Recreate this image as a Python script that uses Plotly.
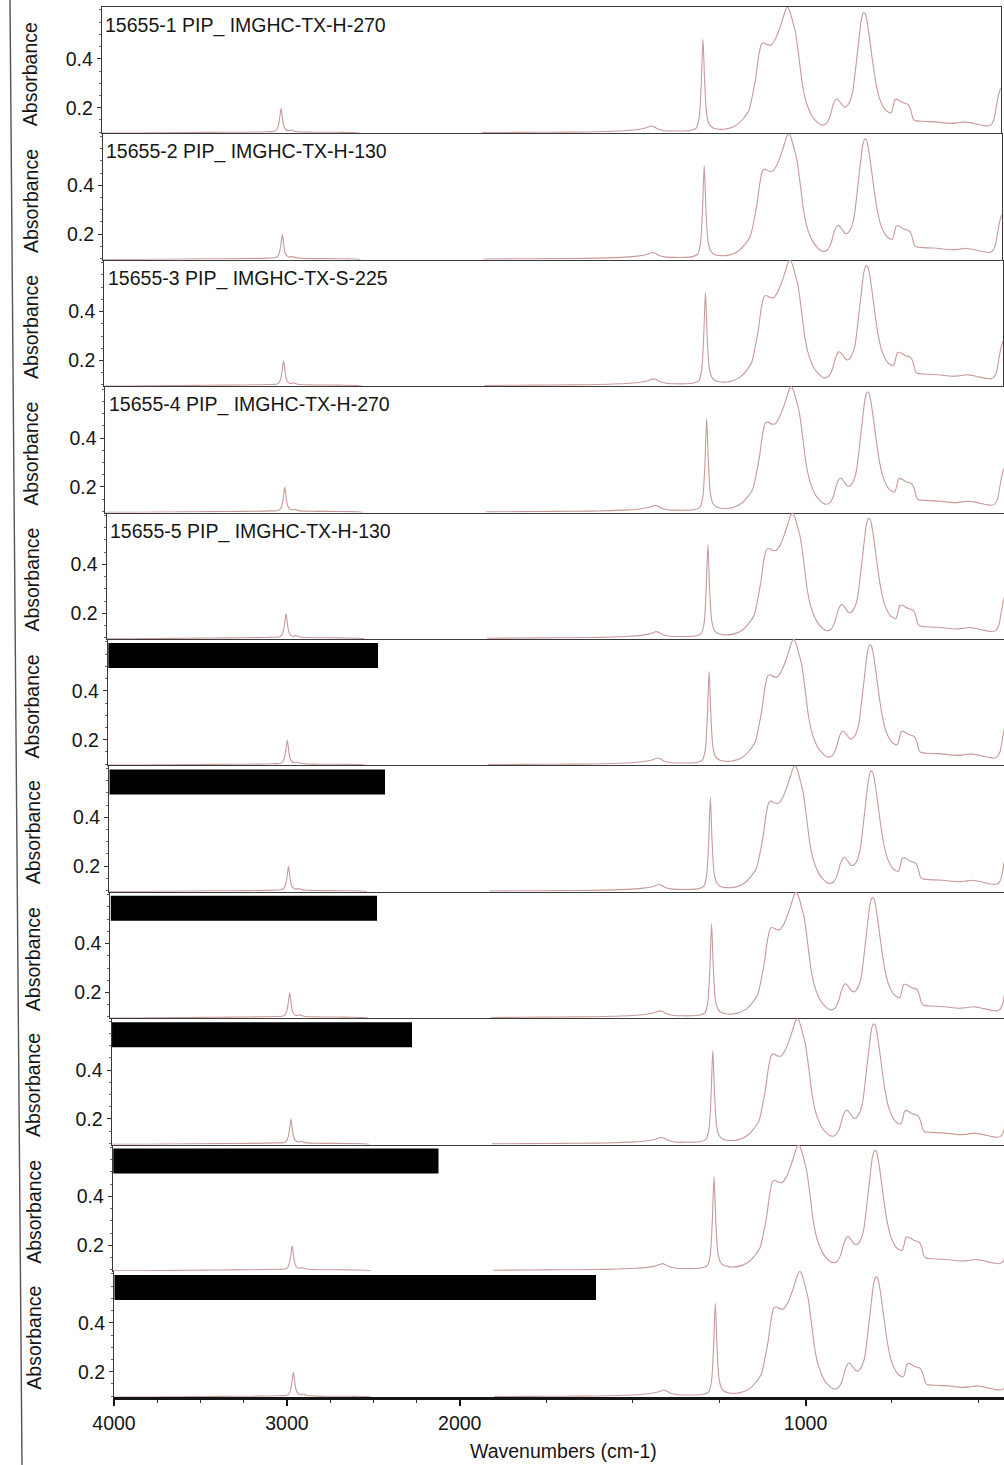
import plotly.graph_objects as go

# ---- spectrum data (absorbance vs. wavenumber, cm-1) ----
# high-wavenumber segment 4000-2510 cm-1
high_wn = [4000, 3850, 3700, 3550, 3400, 3200, 3050, 3000, 2988, 2978, 2970,
           2965, 2962, 2958, 2952, 2945, 2935, 2922, 2912, 2905, 2898, 2886,
           2870, 2840, 2780, 2700, 2600, 2540, 2510]
high_abs = [0.096, 0.096, 0.097, 0.098, 0.099, 0.100, 0.102, 0.104, 0.110, 0.128,
            0.160, 0.188, 0.198, 0.180, 0.145, 0.122, 0.111, 0.106, 0.107, 0.109,
            0.107, 0.104, 0.102, 0.101, 0.100, 0.100, 0.099, 0.098, 0.096]

# fingerprint segment 1900-400 cm-1
low_wn = [1900, 1800, 1700, 1600, 1540, 1490, 1455, 1430, 1418, 1411, 1403, 1392,
          1375, 1350, 1320, 1295, 1280, 1272, 1266, 1261, 1256, 1250, 1242, 1230,
          1215, 1200, 1180, 1160, 1145, 1128, 1118, 1108, 1100, 1092, 1085, 1075,
          1064, 1052, 1041, 1030, 1022, 1016, 1010, 1002, 993, 983, 974, 964, 954,
          944, 935, 925, 917, 905, 895, 885, 877, 872, 864, 855, 848, 840, 829, 819,
          810, 803, 797, 792, 785, 777, 771, 762, 752, 742, 733, 722, 717, 712, 706,
          700, 692, 682, 672, 666, 660, 654, 648, 630, 600, 570, 550, 525, 505, 490,
          470, 450, 437, 428, 420, 412, 405, 400]
low_abs = [0.098, 0.099, 0.100, 0.101, 0.103, 0.106, 0.110, 0.116, 0.122, 0.125,
           0.122, 0.113, 0.107, 0.105, 0.105, 0.108, 0.118, 0.160, 0.300, 0.480,
           0.300, 0.170, 0.130, 0.116, 0.112, 0.112, 0.118, 0.133, 0.155, 0.190,
           0.250, 0.327, 0.410, 0.460, 0.466, 0.458, 0.457, 0.480, 0.518, 0.565,
           0.600, 0.611, 0.595, 0.555, 0.504, 0.400, 0.300, 0.230, 0.190, 0.162,
           0.147, 0.134, 0.129, 0.135, 0.160, 0.210, 0.234, 0.235, 0.222, 0.205,
           0.203, 0.215, 0.259, 0.368, 0.480, 0.560, 0.588, 0.585, 0.540, 0.460,
           0.395, 0.310, 0.245, 0.210, 0.190, 0.180, 0.179, 0.200, 0.232, 0.234,
           0.228, 0.220, 0.216, 0.210, 0.190, 0.157, 0.148, 0.145, 0.143, 0.139,
           0.136, 0.138, 0.142, 0.139, 0.133, 0.127, 0.125, 0.130, 0.150, 0.210,
           0.260, 0.280]

sample_labels = ["15655-1 PIP_ IMGHC-TX-H-270",
                 "15655-2 PIP_ IMGHC-TX-H-130",
                 "15655-3 PIP_ IMGHC-TX-S-225",
                 "15655-4 PIP_ IMGHC-TX-H-270",
                 "15655-5 PIP_ IMGHC-TX-H-130",
                 None, None, None, None, None, None]

major_wn = [4000, 3000, 2000, 1000]
minor_wn = [3750, 3500, 3250, 2750, 2500, 2250, 1750, 1500, 1250, 750, 500]
y_ticks = [0.2, 0.4]
y_range = [0.095, 0.612]

# ---- page geometry (pixels) ----
W, H = 1004, 1465
FONT = "Liberation Sans, Arial, sans-serif"
N = len(sample_labels)
PANEL_H = 126.4
PANEL_TOP0 = 7.0
PLOT_W = 899.0            # pixel width of the 4000-400 span
LEFT0 = 101.7
SKEW = 1.23               # per-panel horizontal drift of the scanned sheet
T_SPAN = 5200.0           # transformed span: 2000 units above 2000 cm-1 + 2x1600 below
redact_right = [378, 385, 377, 412, 438.5, 596]   # right ends of masked label bars


def t_of(w):
    """Expanded wavenumber scale: 1x above 2000 cm-1, 2x below."""
    if w is None:
        return None
    return 4000 - w if w >= 2000 else 2000 + 2 * (2000 - w)


def xp(px):
    return px / W


def yp(py):
    return 1 - py / H


xs = [t_of(w) for w in high_wn] + [None] + [t_of(w) for w in low_wn]
ys = high_abs + [None] + low_abs

fig = go.Figure()
layout = dict(template="none", width=W, height=H,
              margin=dict(l=0, r=0, t=0, b=0, pad=0, autoexpand=False),
              paper_bgcolor="white", plot_bgcolor="white", showlegend=False,
              font=dict(family=FONT, size=19, color="#161616"))
annotations = []
shapes = []

for i in range(N):
    left = LEFT0 + SKEW * i
    right_full = left + PLOT_W
    right = min(right_full, W)
    top = PANEL_TOP0 + PANEL_H * i
    bottom = top + PANEL_H
    t_end = (right - left) / PLOT_W * T_SPAN
    last = i == N - 1
    sfx = "" if i == 0 else str(i + 1)

    fig.add_trace(go.Scatter(
        x=xs, y=ys, mode="lines", connectgaps=False,
        line=dict(color="#c99a9a", width=1.1, shape="spline", smoothing=0.7),
        xaxis="x" + sfx, yaxis="y" + sfx, hoverinfo="skip"))

    xa = dict(domain=[xp(left), xp(right)], range=[0, t_end], automargin=False,
              anchor="y" + sfx, showgrid=False, zeroline=False,
              showline=True, linecolor="#151515" if last else "#3a3a3a",
              linewidth=2.6 if last else 1.0, mirror=(i == 0))
    if last:
        xa.update(tickmode="array", tickvals=[t_of(w) for w in major_wn],
                  ticktext=[str(w) for w in major_wn], ticks="outside",
                  ticklen=6, tickwidth=1.5, tickcolor="#151515",
                  tickfont=dict(family=FONT, size=19.5, color="#161616"),
                  minor=dict(tickmode="array", tickvals=[t_of(w) for w in minor_wn],
                             ticks="outside", ticklen=3, tickwidth=1,
                             tickcolor="#333"))
    else:
        xa.update(showticklabels=False, ticks="")
    layout["xaxis" + sfx] = xa

    layout["yaxis" + sfx] = dict(
        domain=[yp(bottom), yp(top)], range=y_range, anchor="x" + sfx,
        automargin=False, showgrid=False, zeroline=False, showline=True,
        linecolor="#3a3a3a", linewidth=1.0, mirror=(right_full <= W - 0.5),
        tickmode="array", tickvals=y_ticks, ticktext=[f"{v:.1f}" for v in y_ticks],
        ticks="outside", ticklen=4, tickwidth=1, tickcolor="#333",
        tickfont=dict(family=FONT, size=19.5, color="#161616"),
        minor=dict(dtick=0.05, tick0=0, ticks="outside", ticklen=2,
                   tickwidth=1, tickcolor="#666"))

    # y-axis title
    annotations.append(dict(
        text="Absorbance", textangle=-90, xref="paper", yref="paper",
        x=xp(30 + 0.45 * i), y=yp(top + PANEL_H / 2 + 4),
        xanchor="center", yanchor="middle", showarrow=False,
        font=dict(family=FONT, size=19.5, color="#161616")))

    if sample_labels[i] is not None:
        annotations.append(dict(
            text=sample_labels[i], xref="paper", yref="paper",
            x=xp(left + 1.5), y=yp(top + 5), xanchor="left", yanchor="top",
            showarrow=False, font=dict(family=FONT, size=19.5, color="#161616")))
    else:
        k = i - 5
        shapes.append(dict(type="rect", xref="paper", yref="paper",
                           x0=xp(left + 0.5), x1=xp(redact_right[k]),
                           y0=yp(top + 29), y1=yp(top + 4),
                           fillcolor="black", line=dict(width=0), layer="above"))

# x-axis title
annotations.append(dict(
    text="Wavenumbers (cm-1)", xref="paper", yref="paper",
    x=xp(563.5), y=yp(1451), xanchor="center", yanchor="middle",
    showarrow=False, font=dict(family=FONT, size=19.5, color="#161616")))

# left margin rule of the sheet
shapes.append(dict(type="line", xref="paper", yref="paper",
                   x0=xp(10), y0=1, x1=xp(22), y1=0,
                   line=dict(color="#555", width=1.4)))

layout["annotations"] = annotations
layout["shapes"] = shapes
fig.update_layout(**layout)
fig.write_html("out.html")
